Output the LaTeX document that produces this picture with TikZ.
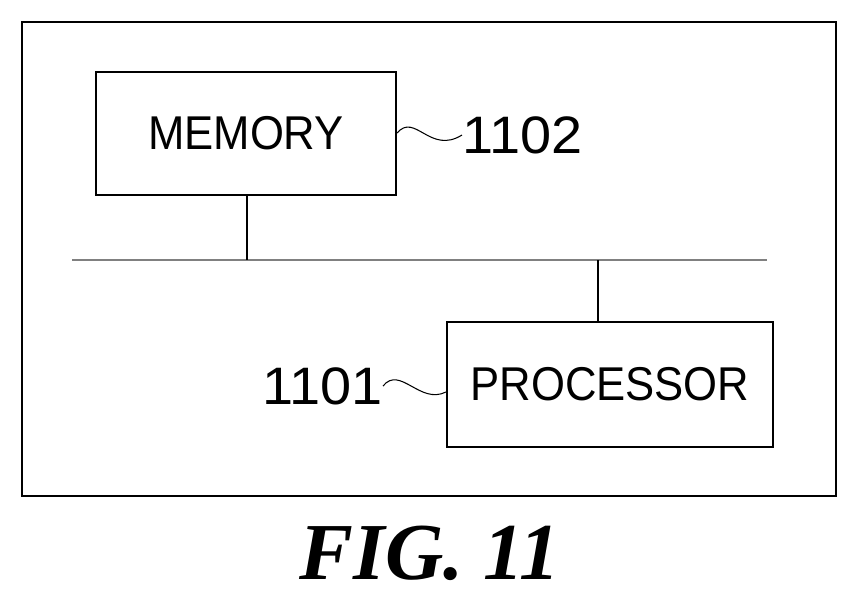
\documentclass[tikz,border=0pt]{standalone}
\usepackage{fontspec}
\setmainfont{Liberation Sans}
\newfontfamily\figfont{Liberation Serif}
\newcommand{\narrow}[1]{\scalebox{0.92}[1]{#1}}
\begin{document}
\begin{tikzpicture}[x=0.02cm,y=-0.02cm,
  unit/.style={draw,line width=1.2pt,inner sep=0pt,font=\fontsize{27}{30}\selectfont},
  refnum/.style={font=\fontsize{30}{33}\selectfont,inner sep=0pt}]
  %% page frame
  \useasboundingbox (0,0) rectangle (859,603);
  \draw[line width=1.2pt] (22,22) rectangle (836,496);
  %% the two units
  \node[unit,minimum width=300*0.02cm,minimum height=123*0.02cm] (memory) at (246,133.5) {\narrow{MEMORY}};
  \node[unit,minimum width=326*0.02cm,minimum height=125*0.02cm] (processor) at (610,384.5) {\narrow{PROCESSOR}};
  %% bus
  \coordinate (busL) at (72,260);
  \coordinate (busR) at (767,260);
  \draw[gray,line width=0.8pt] (busL) -- (busR);
  \draw[line width=0.6pt] (memory.south -| 247,0) -- (247,260);
  \draw[line width=0.6pt] (processor.north -| 598,0) -- (598,260);
  %% reference numerals
  \node[refnum,anchor=west] (n1102) at (462,135) {\scalebox{1.06}[1]{1102}};
  \node[refnum,anchor=east] (n1101) at (383,386) {\scalebox{1.06}[1]{1101}};
  \draw[line width=0.6pt] (memory.east |- 0,133) .. controls (415,112) and (430,155) .. (n1102.west);
  \draw[line width=0.6pt] (n1101.east) .. controls (400,365) and (420,405) .. (processor.west |- 0,392);
  %% caption
  \node[font=\figfont\bfseries\itshape\fontsize{46}{50}\selectfont] (caption) at (430,553) {FIG. 11};
\end{tikzpicture}
\end{document}
